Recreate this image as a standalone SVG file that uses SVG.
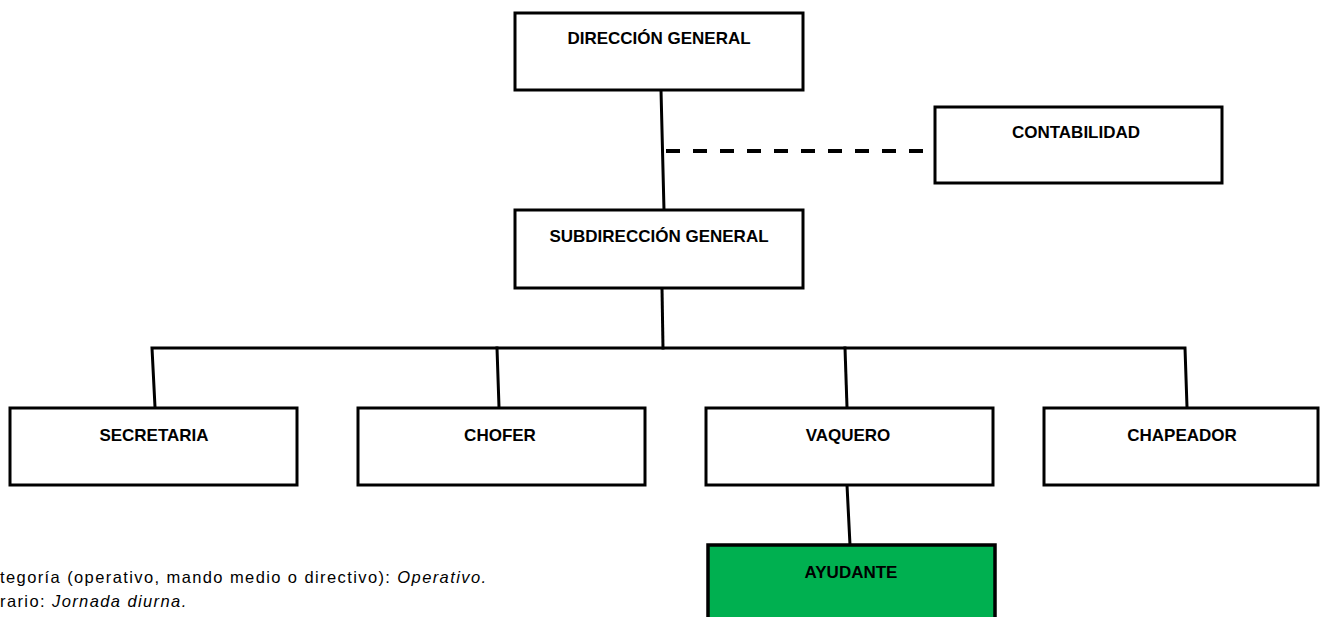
<svg xmlns="http://www.w3.org/2000/svg" width="1320" height="617" viewBox="0 0 1320 617">
<style>
.box{fill:#fff;stroke:#000;stroke-width:3}
.green{fill:#00b050;stroke:#000;stroke-width:3.5}
.lbl{font-family:"Liberation Sans",Arial,sans-serif;font-weight:bold;font-size:17px;fill:#000;text-anchor:middle}
.ln{stroke:#000;stroke-width:3;fill:none;stroke-linecap:square}
.dash{stroke:#000;stroke-width:4;fill:none;stroke-dasharray:14 13}
.note{font-family:"Liberation Sans",Arial,sans-serif;font-size:16.5px;letter-spacing:1.4px;fill:#000}
</style>
<rect width="1320" height="617" fill="#fff"/>
<g id="connectors">
<line class="ln" x1="661" y1="90" x2="664" y2="210"/>
<line class="dash" x1="666" y1="151" x2="926" y2="151"/>
<line class="ln" x1="662" y1="288" x2="663" y2="348"/>
<polyline class="ln" points="155,407 152,348 1185,348 1187,407"/>
<line class="ln" x1="497" y1="348" x2="499" y2="407"/>
<line class="ln" x1="845" y1="348" x2="847" y2="407"/>
<line class="ln" x1="847" y1="485" x2="850" y2="545"/>
</g>
<g id="direccion"><rect class="box" x="515" y="13" width="288" height="77"/><text class="lbl" x="659" y="44">DIRECCIÓN GENERAL</text></g>
<g id="contabilidad"><rect class="box" x="935" y="107" width="287" height="76"/><text class="lbl" x="1076" y="138">CONTABILIDAD</text></g>
<g id="subdireccion"><rect class="box" x="515" y="210" width="288" height="78"/><text class="lbl" x="659" y="242">SUBDIRECCIÓN GENERAL</text></g>
<g id="secretaria"><rect class="box" x="10" y="408" width="287" height="77"/><text class="lbl" x="154" y="441">SECRETARIA</text></g>
<g id="chofer"><rect class="box" x="358" y="408" width="287" height="77"/><text class="lbl" x="500" y="441">CHOFER</text></g>
<g id="vaquero"><rect class="box" x="706" y="408" width="287" height="77"/><text class="lbl" x="848" y="441">VAQUERO</text></g>
<g id="chapeador"><rect class="box" x="1044" y="408" width="274" height="77"/><text class="lbl" x="1182" y="441">CHAPEADOR</text></g>
<g id="ayudante"><rect class="green" x="708" y="545" width="287" height="80"/><text class="lbl" x="851" y="578">AYUDANTE</text></g>
<g id="notes">
<text class="note" x="0" y="583">tegoría (operativo, mando medio o directivo): <tspan font-style="italic">Operativo.</tspan></text>
<text class="note" x="0" y="607">rario: <tspan font-style="italic">Jornada diurna.</tspan></text>
</g>
</svg>
